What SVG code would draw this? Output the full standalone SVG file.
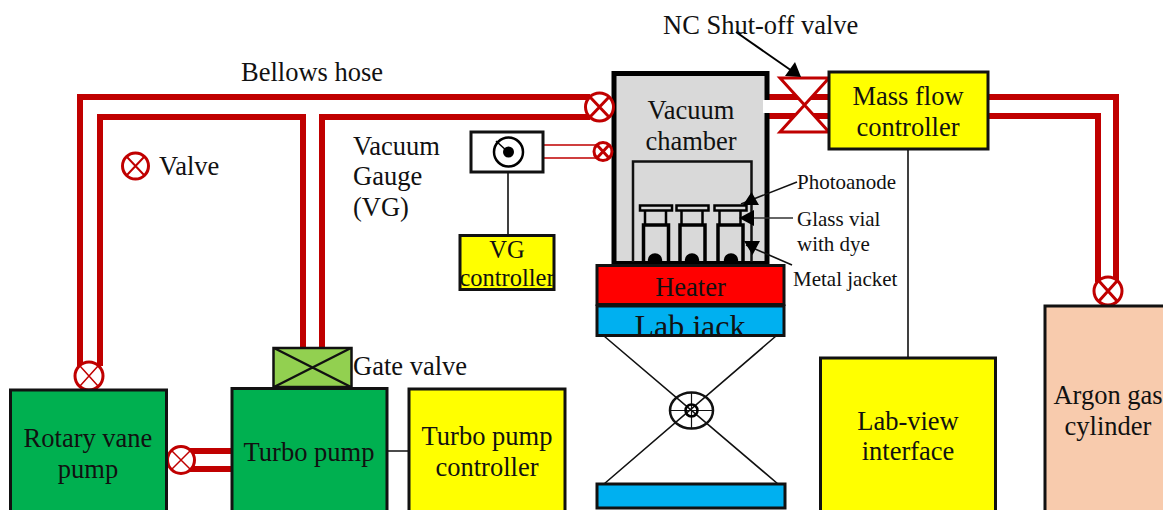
<svg xmlns="http://www.w3.org/2000/svg" width="1163" height="510" viewBox="0 0 1163 510">
<style>
text{font-family:"Liberation Serif","Times New Roman",serif;font-size:26.500px;fill:#111;text-anchor:middle}
.s{font-size:21px}
.st{text-anchor:start}
.box{stroke:#111;stroke-width:3}
.pipe{fill:none;stroke:#c00000;stroke-width:6}
.thin{fill:none;stroke:#c00000;stroke-width:1.500}
.v{fill:#fff;stroke:#c00000;stroke-width:3}
.vx{stroke:#c00000;stroke-width:3}
.k{fill:none;stroke:#111;stroke-width:1.600}
.y{fill:#ff0}.g{fill:#00b050}.b{fill:#00b0f0}
</style>
<defs>
<clipPath id="jc"><rect x="597" y="306" width="187" height="29"/></clipPath>
</defs>
<g id="connectors">
<path class="pipe" d="M80 366V97H590M100 366V117H303V348M322 348V117H590"/>
<path class="pipe" d="M766 97H828M766 116H828"/>
<path class="pipe" d="M989 97H1116V282M989 116H1098V282"/>
<path class="pipe" d="M185 451H232M185 469H232"/>
<path class="thin" d="M544 145H596M544 158H596"/>
<path class="k" d="M508 172V235M908 150V357M388 451H409"/>
<path class="k" d="M604 336L778 484M776 336L604 484"/>
</g>
<g id="vacuum-chamber">
<rect x="614" y="73.500" width="153" height="190" fill="#d9d9d9" stroke="#000" stroke-width="5"/>
<rect x="763" y="100" width="8" height="13" fill="#fff"/>
<text x="691" y="119">Vacuum</text><text x="691" y="150">chamber</text>
<path d="M633 262V161.500H751.500V262" fill="none" stroke="#111" stroke-width="2.500"/>
</g>
<g id="vials" fill="#d9d9d9" stroke="#000" stroke-width="2.500">
<g id="vial1"><rect x="640" y="205.500" width="32" height="5"/><path fill="none" d="M645 211V225M666 211V225"/><path fill="none" stroke-width="3.500" d="M643.500 263V225H668.500V263"/><ellipse cx="655" cy="260" rx="6" ry="5.500" fill="#000"/></g>
<g id="vial2"><rect x="676.500" y="205.500" width="32" height="5"/><path fill="none" d="M681.500 211V225M702.500 211V225"/><path fill="none" stroke-width="3.500" d="M680 263V225H705V263"/><ellipse cx="692" cy="260" rx="6" ry="5.500" fill="#000"/></g>
<g id="vial3"><rect x="714.500" y="205.500" width="32" height="5"/><path fill="none" d="M719.500 211V225M740.500 211V225"/><path fill="none" stroke-width="3.500" d="M718 263V225H743V263"/><ellipse cx="731" cy="260" rx="6" ry="5.500" fill="#000"/></g>
</g>
<g id="annotations">
<path d="M797 182L741 204" fill="none" stroke="#111" stroke-width="1.600"/>
<path d="M793 218H750" fill="none" stroke="#333" stroke-width="1.600"/>
<path d="M792 265L746 245" fill="none" stroke="#111" stroke-width="1.600"/>
<path d="M751.500 192L759 205H743Z M739 218L754 210V226Z M744 241H760L752.500 255Z" fill="#000"/>
<text class="s st" x="797" y="189">Photoanode</text>
<text class="s st" x="797" y="226">Glass vial</text>
<text class="s st" x="797" y="251">with dye</text>
<text class="s st" x="793" y="286">Metal jacket</text>
<text class="st" x="663" y="34">NC Shut-off valve</text>
<text class="st" x="241" y="81">Bellows hose</text>
<text class="st" x="353" y="155">Vacuum</text>
<text class="st" x="353" y="185">Gauge</text>
<text class="st" x="353" y="216">(VG)</text>
<text class="st" x="159" y="175">Valve</text>
<text class="st" x="353" y="375">Gate valve</text>
</g>
<g id="shutoff-valve"><path d="M780 78H829L780 132H829Z" fill="#fff" stroke="#c00000" stroke-width="3"/></g>
<g id="shutoff-arrow"><path d="M736 32L792 71" fill="none" stroke="#000" stroke-width="2"/><path d="M801 77L785 76L795 62Z" fill="#000"/></g>
<g id="mass-flow"><rect class="box y" x="829" y="72" width="159" height="77"/><text x="908" y="105">Mass flow</text><text x="908" y="136">controller</text></g>
<g id="valve-top"><circle class="v" cx="599.500" cy="107" r="14"/><path class="vx" d="M590 97L609 117M609 97L590 117"/></g>
<g id="valve-vg"><circle class="v" cx="603" cy="151.500" r="9"/><path class="vx" d="M597 145L609 158M609 145L597 158"/></g>
<g id="valve-legend"><circle class="v" cx="135.500" cy="166" r="13"/><path class="vx" d="M127 157L144 175M144 157L127 175" style="stroke-width:2"/></g>
<g id="valve-rotary"><circle class="v" cx="89" cy="376" r="14"/><path class="vx" d="M80 366L98 386M98 366L80 386" style="stroke-width:1.500"/></g>
<g id="valve-turbo"><circle class="v" cx="181" cy="460" r="13.500"/><path class="vx" d="M172 451L190 469M190 451L172 469" style="stroke-width:1.500"/></g>
<g id="valve-argon"><circle class="v" cx="1108" cy="291" r="14"/><path class="vx" d="M1099 281L1117 301M1117 281L1099 301"/></g>
<g id="vg"><rect x="471" y="132" width="72" height="40" fill="#fff" class="box"/><circle cx="508.500" cy="152" r="14.500" fill="#fff" stroke="#000" stroke-width="2.500"/><circle cx="508.500" cy="152" r="5.500" fill="#000"/><path d="M496 141L508 152" stroke="#000" stroke-width="1.500"/></g>
<g id="vg-controller"><rect class="box y" x="460" y="235.500" width="94" height="54"/><text x="507" y="258" style="font-size:24.500px">VG</text><text x="507" y="286" style="font-size:24.500px">controller</text></g>
<g id="heater"><rect class="box" x="597" y="265.500" width="187" height="39" fill="#f00"/><text x="690.500" y="295.500">Heater</text></g>
<g id="lab-jack"><rect class="box b" x="597" y="306" width="187" height="29.500"/><text x="690" y="337" clip-path="url(#jc)" style="font-size:32px">Lab jack</text></g>
<g id="jack-wheel"><ellipse cx="691.500" cy="410.500" rx="21.500" ry="18" fill="none" stroke="#111" stroke-width="2.500"/><path d="M670 410.500H713M691.500 392V429" stroke="#111" stroke-width="1.200"/><circle cx="691.500" cy="410.500" r="6" fill="none" stroke="#000" stroke-width="2.500"/></g>
<g id="jack-base"><rect class="box b" x="597" y="484" width="188" height="24"/></g>
<g id="rotary-pump"><rect class="box g" x="10.500" y="390" width="156" height="125"/><text x="88" y="447">Rotary vane</text><text x="88" y="478">pump</text></g>
<g id="turbo-pump"><rect class="box g" x="232" y="388.500" width="155" height="125"/><text x="309" y="461">Turbo pump</text></g>
<g id="gate-valve"><rect x="273.500" y="348" width="78" height="39" fill="#92d050" stroke="#111" stroke-width="2.500"/><path d="M274 348L351 387M351 348L274 387" stroke="#111" stroke-width="2.500"/></g>
<g id="turbo-controller"><rect class="box y" x="409" y="389" width="156" height="125"/><text x="487" y="445">Turbo pump</text><text x="487" y="476">controller</text></g>
<g id="labview"><rect class="box y" x="820.500" y="358" width="175" height="155"/><text x="908" y="430">Lab-view</text><text x="908" y="460">interface</text></g>
<g id="argon"><rect class="box" x="1045" y="306" width="125" height="210" fill="#f8cbad"/><text x="1108" y="404">Argon gas</text><text x="1108" y="435">cylinder</text></g>
</svg>
